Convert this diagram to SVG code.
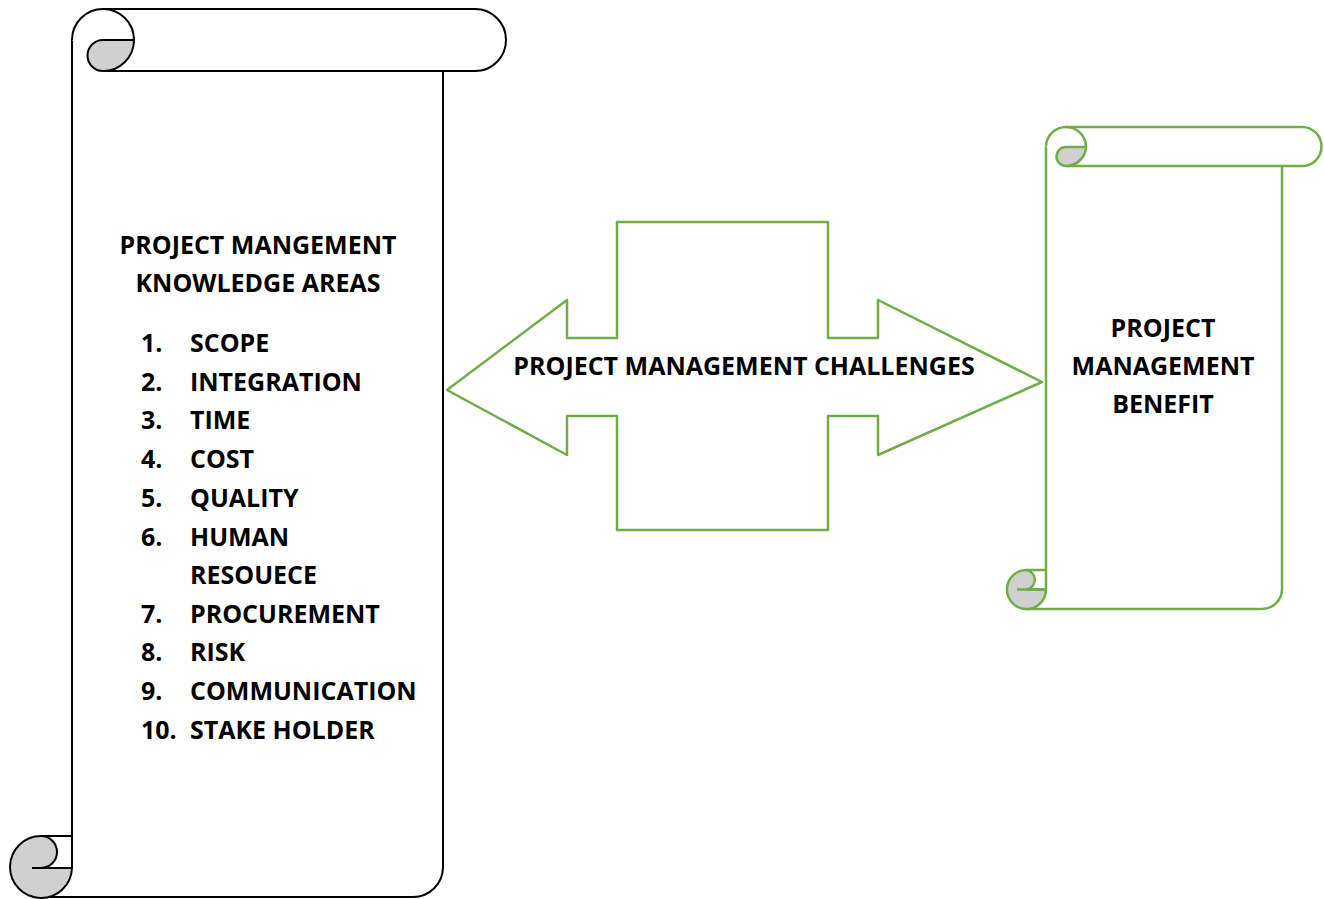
<svg xmlns="http://www.w3.org/2000/svg" width="1324" height="899" viewBox="0 0 1324 899">
  <style>
    .ink { fill: none; stroke: #000; stroke-width: 2; stroke-linejoin: round; }
    .inkfill { fill: #fff; stroke: #000; stroke-width: 2; stroke-linejoin: round; }
    .grn { fill: none; stroke: #70AD47; stroke-width: 2.5; stroke-linejoin: round; }
    .grnfill { fill: #fff; stroke: #70AD47; stroke-width: 2.5; stroke-linejoin: round; }
    .curl { fill: #D0D0D0; }
    .t { font-family: "Open Sans", "Liberation Sans", sans-serif; font-weight: 700; font-size: 25px; fill: #000; }
    .c { text-anchor: middle; }
  </style>
  <rect width="1324" height="899" fill="#fff"/>

  <!-- Left scroll: knowledge areas -->
  <g id="knowledge-areas">
    <!-- body -->
    <path class="ink" d="M72,40 L72,868"/>
    <path class="ink" d="M443,71 L443,867 A30,30 0 0 1 413,897 L41,897"/>
    <!-- top roll -->
    <path class="inkfill" d="M72,40 A31,31 0 0 1 103,9 L475,9 A31,31 0 0 1 475,71 L103,71"/>
    <path class="ink curl" d="M103,40 L134,40 A31,31 0 0 1 103,71 A15.5,15.5 0 0 1 103,40 Z"/>
    <path class="ink" d="M103,9 A31,31 0 0 1 134,40"/>
    <!-- bottom roll -->
    <path class="ink curl" d="M41,836 A16,16 0 0 1 41,868 L72,868 A31,31 0 1 1 41,836 Z"/>
    <path class="ink" d="M41,836 L72,836 M32,868 L72,868"/>

    <text class="t c" x="258" y="254">PROJECT MANGEMENT</text>
    <text class="t c" x="258" y="292">KNOWLEDGE AREAS</text>
    <g class="t">
      <text x="141" y="352">1.</text><text x="190" y="352">SCOPE</text>
      <text x="141" y="391">2.</text><text x="190" y="391">INTEGRATION</text>
      <text x="141" y="429">3.</text><text x="190" y="429">TIME</text>
      <text x="141" y="468">4.</text><text x="190" y="468">COST</text>
      <text x="141" y="507">5.</text><text x="190" y="507">QUALITY</text>
      <text x="141" y="546">6.</text><text x="190" y="546">HUMAN</text>
      <text x="190" y="584">RESOUECE</text>
      <text x="141" y="623">7.</text><text x="190" y="623">PROCUREMENT</text>
      <text x="141" y="661">8.</text><text x="190" y="661">RISK</text>
      <text x="141" y="700">9.</text><text x="190" y="700">COMMUNICATION</text>
      <text x="141" y="739">10.</text><text x="190" y="739">STAKE HOLDER</text>
    </g>
  </g>

  <!-- Double-headed block arrow: challenges -->
  <g id="challenges">
    <path class="grnfill" d="M447,390 L567,300 L567,338 L617,338 L617,222 L828,222 L828,338 L878,338 L878,300 L1042,382 L878,455 L878,416 L828,416 L828,530 L617,530 L617,416 L567,416 L567,455 Z"/>
    <text class="t c" x="744" y="375">PROJECT MANAGEMENT CHALLENGES</text>
  </g>

  <!-- Right scroll: benefit -->
  <g id="benefit">
    <path class="grn" d="M1046,146.5 L1046,589"/>
    <path class="grn" d="M1282,166 L1282,589 A20,20 0 0 1 1262,609 L1027,609"/>
    <path class="grnfill" d="M1046,146.5 A20,20 0 0 1 1066,127 L1302,127 A19.5,19.5 0 0 1 1302,166 L1066,166"/>
    <path class="grn curl" d="M1066,147 L1086,147 A20,20 0 0 1 1066,166 A9.5,9.5 0 0 1 1066,147 Z"/>
    <path class="grn" d="M1066,127 A20,20 0 0 1 1086,147"/>
    <path class="grn curl" d="M1027,570 A10,10 0 0 1 1027,589.5 L1046,589.5 A19.5,19.5 0 1 1 1027,570 Z"/>
    <path class="grn" d="M1027,570 L1046,570 M1017,589.5 L1046,589.5"/>

    <text class="t c" x="1163" y="337">PROJECT</text>
    <text class="t c" x="1163" y="375">MANAGEMENT</text>
    <text class="t c" x="1163" y="413">BENEFIT</text>
  </g>
</svg>
